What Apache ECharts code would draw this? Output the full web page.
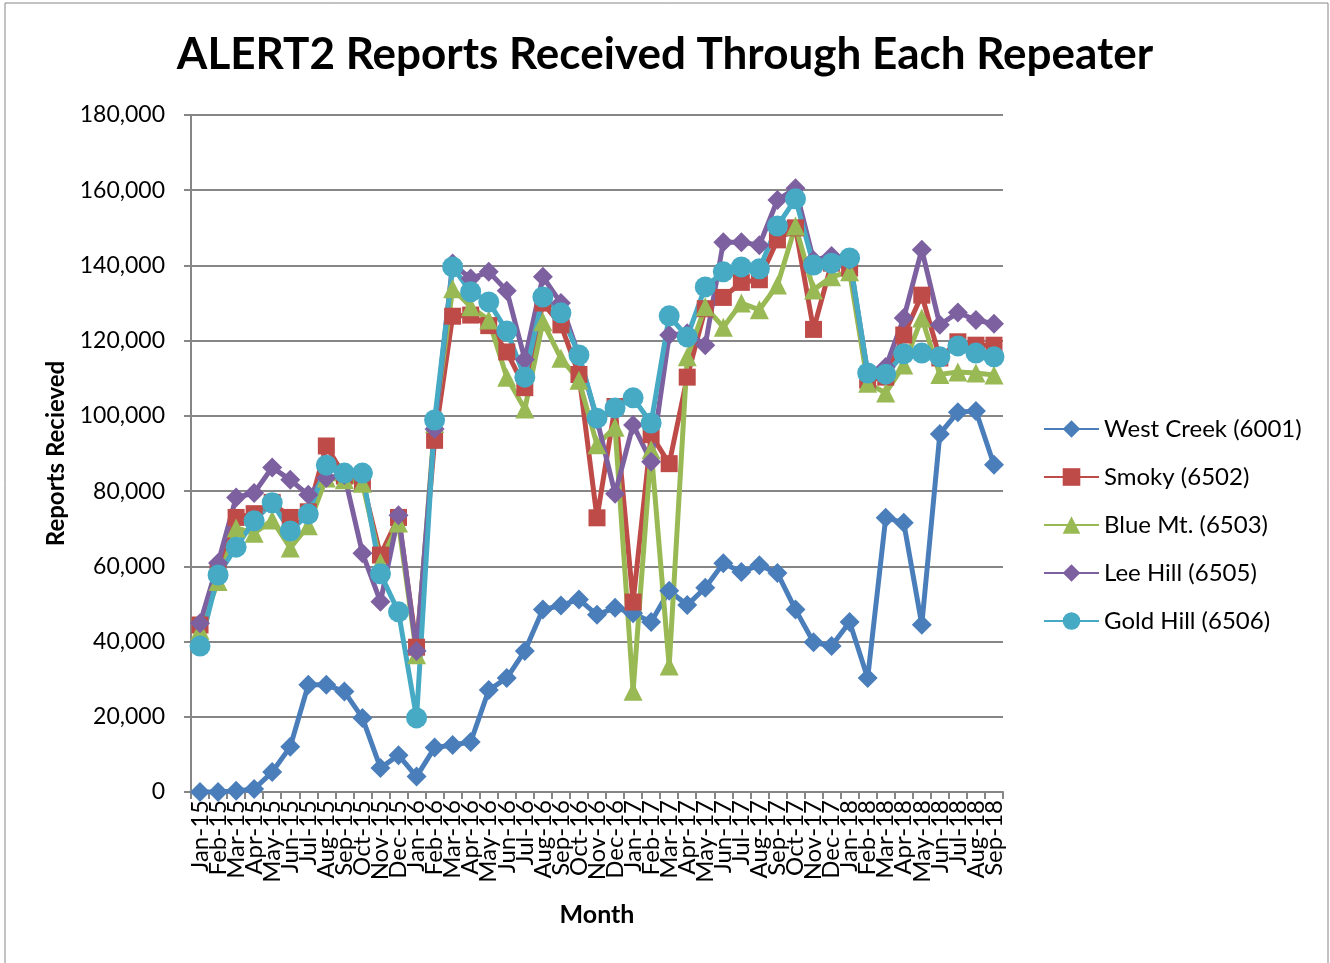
<!DOCTYPE html>
<html>
<head>
<meta charset="utf-8">
<title>ALERT2 Reports Received Through Each Repeater</title>
<script src="https://cdn.jsdelivr.net/npm/echarts@6/dist/echarts.min.js"></script>
<style>
  html, body { margin: 0; padding: 0; background: #fff; }
  #chart { width: 1330px; height: 963px; }
</style>
</head>
<body>
<div id="chart"></div>
<script>
// month labels along the x axis
var months = [
  'Jan-15', 'Feb-15', 'Mar-15', 'Apr-15', 'May-15', 'Jun-15', 'Jul-15', 'Aug-15', 'Sep-15', 'Oct-15', 'Nov-15', 'Dec-15',
  'Jan-16', 'Feb-16', 'Mar-16', 'Apr-16', 'May-16', 'Jun-16', 'Jul-16', 'Aug-16', 'Sep-16', 'Oct-16', 'Nov-16', 'Dec-16',
  'Jan-17', 'Feb-17', 'Mar-17', 'Apr-17', 'May-17', 'Jun-17', 'Jul-17', 'Aug-17', 'Sep-17', 'Oct-17', 'Nov-17', 'Dec-17',
  'Jan-18', 'Feb-18', 'Mar-18', 'Apr-18', 'May-18', 'Jun-18', 'Jul-18', 'Aug-18', 'Sep-18'
];

var westCreek = [0, 0, 300, 800, 5300, 12000, 28500, 28500, 26700, 19700, 6400, 9800,
  4100, 11800, 12500, 13300, 27100, 30300, 37500, 48500, 49600, 51200, 47100, 49000,
  47500, 45200, 53500, 49700, 54300, 60800, 58500, 60300, 58200, 48500, 39800, 38800,
  45200, 30300, 72900, 71600, 44500, 95200, 101000, 101300, 87000];

var smoky = [44400, 59000, 73000, 74000, 77000, 73000, 74500, 92000, 84000, 82500, 63000, 73000,
  38500, 93500, 126500, 126800, 124000, 117000, 107500, 130000, 124200, 111000, 72900, 102500,
  50500, 95000, 87300, 110300, 128500, 131500, 135500, 136200, 146800, 150000, 123000, 140600,
  139300, 109500, 110300, 121500, 132100, 115400, 119700, 118800, 118800];

var blueMt = [43000, 56000, 70200, 68800, 72300, 64900, 70800, 83500, 83000, 82100, 61000, 71500,
  36500, 98000, 133800, 129000, 125500, 110300, 101800, 125000, 115300, 109500, 92300, 97000,
  26800, 91000, 33500, 115700, 129000, 123600, 130000, 128200, 134800, 150500, 133500, 137000,
  138300, 108700, 106100, 113500, 126000, 111000, 111700, 111400, 110900];

var leeHill = [44900, 60900, 78300, 79500, 86300, 83000, 79000, 83500, 84300, 63500, 50600, 73600,
  37500, 96500, 140500, 136500, 138300, 133300, 115000, 137000, 130000, 116000, 99000, 79300,
  97600, 87800, 121500, 122000, 118800, 146200, 146200, 145400, 157400, 160500, 141400, 142500,
  141500, 111500, 113000, 126000, 144200, 124200, 127500, 125500, 124500];

var goldHill = [38800, 57700, 65100, 72100, 76900, 69400, 73900, 86900, 84800, 84800, 58000, 47900,
  19700, 98900, 139600, 133000, 130300, 122600, 110300, 131600, 127400, 116200, 99400, 102100,
  104800, 98100, 126600, 121000, 134300, 138300, 139600, 139100, 150500, 157700, 140100, 140600,
  142000, 111400, 111100, 116500, 116700, 115700, 118600, 116700, 115700];

var font = 'Lato, "Open Sans", sans-serif';
var gray = '#868686';

function line(name, data, color, symbol, size) {
  return {
    name: name,
    type: 'line',
    data: data,
    symbol: symbol,
    symbolSize: size,
    lineStyle: { color: color, width: 5 },
    itemStyle: { color: color },
    emphasis: { disabled: true },
    animation: false
  };
}

var chart = echarts.init(document.getElementById('chart'));
chart.setOption({
  backgroundColor: '#fff',
  title: {
    text: 'ALERT2 Reports Received Through Each Repeater',
    left: 'center',
    top: 28,
    textStyle: { fontFamily: font, fontSize: 44, fontWeight: 'bold', color: '#000' }
  },
  graphic: [{
    type: 'rect',
    shape: { x: 5, y: 3, width: 1323, height: 975 },
    style: { fill: 'none', stroke: gray, lineWidth: 1 },
    silent: true
  }],
  legend: {
    orient: 'vertical',
    left: 1038,
    top: 410,
    itemWidth: 55,
    itemHeight: 22,
    itemGap: 20,
    textStyle: { fontFamily: font, fontSize: 24, color: '#000', lineHeight: 28 },
    data: ['West Creek (6001)', 'Smoky (6502)', 'Blue Mt. (6503)', 'Lee Hill (6505)', 'Gold Hill (6506)']
  },
  grid: { left: 191, right: 327, top: 115, bottom: 171 },
  xAxis: {
    type: 'category',
    data: months,
    boundaryGap: true,
    name: 'Month',
    nameLocation: 'middle',
    nameGap: 110,
    nameTextStyle: { fontFamily: font, fontSize: 25, fontWeight: 'bold', color: '#000' },
    axisLine: { lineStyle: { color: gray, width: 2 } },
    axisTick: { show: true, length: 7, lineStyle: { color: gray, width: 2 }, interval: 0 },
    axisLabel: { interval: 0, rotate: 90, margin: 8, fontFamily: font, fontSize: 24, color: '#000' }
  },
  yAxis: {
    type: 'value',
    min: 0,
    max: 180000,
    interval: 20000,
    name: 'Reports Recieved',
    nameLocation: 'middle',
    nameGap: 123,
    nameRotate: 90,
    nameTextStyle: { fontFamily: font, fontSize: 24, fontWeight: 'bold', color: '#000' },
    axisLine: { show: true, lineStyle: { color: gray, width: 2 } },
    axisTick: { show: true, length: 7, lineStyle: { color: gray, width: 2 } },
    splitLine: { lineStyle: { color: gray, width: 2 } },
    axisLabel: {
      margin: 26,
      fontFamily: font,
      fontSize: 23,
      color: '#000',
      formatter: function (v) { return v.toLocaleString('en-US'); }
    }
  },
  series: [
    line('West Creek (6001)', westCreek, '#4A7EBB', 'diamond', 20),
    line('Smoky (6502)', smoky, '#BE4B48', 'rect', 17),
    line('Blue Mt. (6503)', blueMt, '#98B954', 'triangle', 19),
    line('Lee Hill (6505)', leeHill, '#7D60A0', 'diamond', 20),
    line('Gold Hill (6506)', goldHill, '#46AAC5', 'circle', 21)
  ]
});
</script>
</body>
</html>
